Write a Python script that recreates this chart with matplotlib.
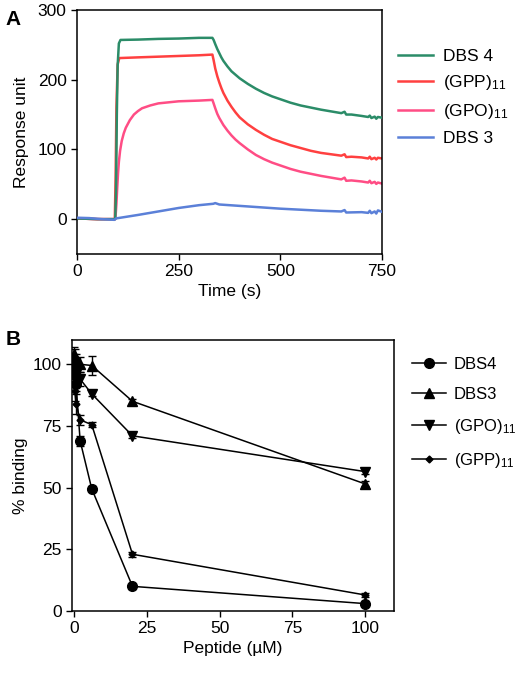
import matplotlib
matplotlib.use('Agg')
import matplotlib.pyplot as plt
from matplotlib.lines import Line2D

plt.rcParams['font.family'] = ['Liberation Sans', 'DejaVu Sans']
plt.rcParams['mathtext.fontset'] = 'custom'
plt.rcParams['mathtext.rm'] = 'Liberation Sans'
plt.rcParams['mathtext.it'] = 'Liberation Sans'

# ---- Panel A: sensorgrams (time in s, response units) ----
t_dbs4 = [0, 50, 94, 96, 98, 100, 103, 107, 150, 200, 250, 300, 333, 336, 340, 345, 350,
          355, 360, 370, 380, 390, 400, 420, 440, 460, 480, 500, 525, 550, 575, 600, 625,
          650, 658, 662, 675, 700, 716, 720, 724, 732, 736, 740, 750]
v_dbs4 = [1, 0, 0, 40, 150, 220, 252, 257, 257.5, 258.5, 259, 260, 260, 257, 251, 244, 238,
          232, 227, 219, 212, 207, 202, 194, 187, 181, 176, 172, 167, 163, 160, 157, 154.5,
          152, 154, 150, 150, 148, 146.5, 148.5, 145, 147, 144, 146.5, 145.5]

t_gpp = [0, 50, 93, 95, 97, 100, 104, 150, 200, 250, 300, 333, 336, 340, 345, 350, 355,
         360, 370, 380, 390, 400, 420, 440, 460, 480, 500, 525, 550, 575, 600, 625, 650,
         658, 662, 675, 700, 716, 720, 724, 732, 736, 740, 750]
v_gpp = [1, 0, 0, 60, 160, 222, 231, 232, 233, 234, 235, 236, 228, 216, 205, 196, 188,
         181, 170, 161, 153, 146, 136, 128, 121, 115, 111, 106, 102, 98, 95, 93, 91,
         93, 89, 89.5, 88.5, 87, 89.5, 86, 88, 85.5, 88, 87]

t_gpo = [0, 50, 94, 95, 97, 99, 101, 103, 106, 110, 115, 120, 130, 140, 150, 160, 180,
         200, 250, 300, 333, 336, 340, 345, 350, 355, 360, 370, 380, 390, 400, 420, 440,
         460, 480, 500, 525, 550, 575, 600, 625, 650, 658, 662, 675, 700, 716, 720, 724,
         732, 736, 740, 750]
v_gpo = [1, 0, 0, 5, 22, 45, 66, 82, 98, 112, 123, 131, 142, 150, 155, 159, 163,
         166, 169, 170, 171, 166, 159, 151, 145, 140, 135, 127, 120, 114, 109, 100, 92,
         86, 81, 77, 72, 68, 65, 62, 59.5, 57, 59.5, 55, 55.5, 54, 52.5, 55, 51.5,
         53.5, 50.5, 52.5, 51]

t_dbs3 = [0, 30, 60, 92, 96, 150, 200, 250, 300, 335, 340, 350, 400, 450, 500, 550, 600,
          650, 658, 662, 700, 716, 720, 724, 732, 736, 740, 750]
v_dbs3 = [2, 1.5, 0, -1, 1, 6, 11, 16, 20, 22, 23, 21, 19, 17, 15, 13.5, 12, 11, 13, 9.5,
          10, 9, 12, 8.5, 11, 8, 12.5, 10.5]

# ---- Panel B: competition (peptide in uM, % binding) ----
conc = [0, 0.2, 0.6, 2, 6, 20, 100]
b_dbs4 = [100, 96, 92, 69, 49.5, 10, 3]
e_dbs4 = [3, 3, 3, 2, 1, 1, 1]
b_dbs3 = [104, 103, 101, 100, 99.5, 85, 51.5]
e_dbs3 = [3, 3, 3, 3, 4, 1, 1]
b_gpo = [101, 99, 96, 94, 88, 71, 56.5]
e_gpo = [3, 3, 3, 3, 1, 1, 1]
b_gpp = [97, 89, 84, 77.5, 75.5, 23, 6.5]
e_gpp = [3, 4, 4, 2, 1, 1, 1]

c_green = '#2b8c68'
c_red = '#ff4040'
c_pink = '#ff4d85'
c_blue = '#5b80d8'

FS = 12.5

fig = plt.figure(figsize=(5.32, 6.73), dpi=100)

# ---------- A ----------
axA = fig.add_axes([0.1447, 0.6226, 0.5733, 0.3626])
axA.plot(t_dbs4, v_dbs4, color=c_green, lw=1.8, label='DBS 4', zorder=3)
axA.plot(t_gpp, v_gpp, color=c_red, lw=1.8, label='(GPP)$_{11}$', zorder=2)
axA.plot(t_gpo, v_gpo, color=c_pink, lw=1.8, label='(GPO)$_{11}$', zorder=2)
axA.plot(t_dbs3, v_dbs3, color=c_blue, lw=1.8, label='DBS 3', zorder=4)
axA.set_xlim(0, 750)
axA.set_ylim(-50, 300)
axA.set_xticks([0, 250, 500, 750])
axA.set_yticks([0, 100, 200, 300])
axA.tick_params(direction='out', length=4, width=1, labelsize=FS)
axA.set_xlabel('Time (s)', fontsize=FS, labelpad=3)
axA.set_ylabel('Response unit', fontsize=FS, labelpad=6)
for s in axA.spines.values():
    s.set_linewidth(1.1)
axA.legend(loc='upper left', bbox_to_anchor=(1.03, 0.87), frameon=False, fontsize=FS,
           handlelength=2.0, handletextpad=0.6, labelspacing=0.55, borderaxespad=0)
fig.text(0.01, 0.985, 'A', fontsize=15, fontweight='bold', va='top')

# ---------- B ----------
axB = fig.add_axes([0.1353, 0.0921, 0.6058, 0.4033])
kw = dict(color='black', lw=1.1, capsize=3, elinewidth=1.0, capthick=1.0)
axB.errorbar(conc, b_dbs4, yerr=e_dbs4, marker='o', ms=7, **kw)
axB.errorbar(conc, b_dbs3, yerr=e_dbs3, marker='^', ms=6.5, **kw)
axB.errorbar(conc, b_gpo, yerr=e_gpo, marker='v', ms=6.5, **kw)
axB.errorbar(conc, b_gpp, yerr=e_gpp, marker='D', ms=3.5, **kw)
axB.set_xlim(-0.8, 110)
axB.set_ylim(0, 110)
axB.set_xticks([0, 25, 50, 75, 100])
axB.set_yticks([0, 25, 50, 75, 100])
axB.tick_params(direction='out', length=4, width=1, labelsize=FS)
axB.set_xlabel('Peptide (\u00b5M)', fontsize=FS, labelpad=3)
axB.set_ylabel('% binding', fontsize=FS, labelpad=3)
for s in axB.spines.values():
    s.set_linewidth(1.1)
handlesB = [
    Line2D([], [], color='black', lw=1.1, marker='o', ms=7, label='DBS4'),
    Line2D([], [], color='black', lw=1.1, marker='^', ms=6.5, label='DBS3'),
    Line2D([], [], color='black', lw=1.1, marker='v', ms=6.5, label='(GPO)$_{11}$'),
    Line2D([], [], color='black', lw=1.1, marker='D', ms=3.5, label='(GPP)$_{11}$'),
]
axB.legend(handles=handlesB, loc='upper left', bbox_to_anchor=(1.035, 0.96), frameon=False,
           fontsize=12, handlelength=2.0, handletextpad=0.5, labelspacing=0.9,
           borderaxespad=0)
fig.text(0.01, 0.51, 'B', fontsize=15, fontweight='bold', va='top')

fig.savefig('out.png', dpi=100)
